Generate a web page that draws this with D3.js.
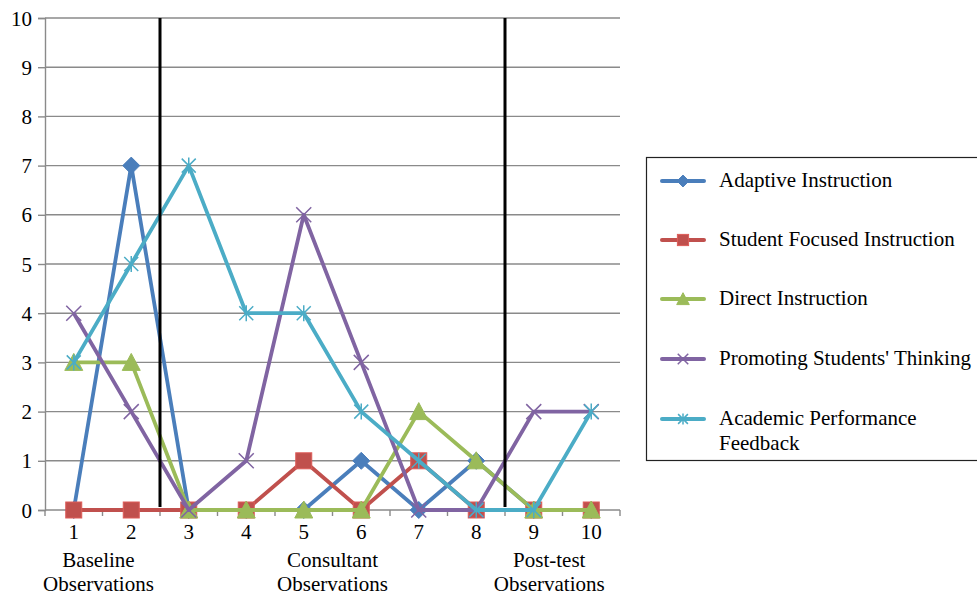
<!DOCTYPE html>
<html>
<head>
<meta charset="utf-8">
<script src="https://cdn.jsdelivr.net/npm/d3@7"></script>
<style>
  html, body { margin: 0; padding: 0; background: #fff; }
  svg { display: block; }
</style>
</head>
<body>
<svg id="chart" width="977" height="598"></svg>
<script>
// Observation sessions and ratings per teaching behaviour
const observations = [1, 2, 3, 4, 5, 6, 7, 8, 9, 10];
const yTicks = [0, 1, 2, 3, 4, 5, 6, 7, 8, 9, 10];
const seriesNames = [
  "Adaptive Instruction",
  "Student Focused Instruction",
  "Direct Instruction",
  "Promoting Students' Thinking",
  "Academic Performance Feedback"
];
const adaptive = [0, 7, 0, 0, 0, 1, 0, 1, 0, 0];
const studentFocused = [0, 0, 0, 0, 1, 0, 1, 0, 0, 0];
const direct = [3, 3, 0, 0, 0, 0, 2, 1, 0, 0];
const promoting = [4, 2, 0, 1, 6, 3, 0, 0, 2, 2];
const feedback = [3, 5, 7, 4, 4, 2, 1, 0, 0, 2];
const phaseLabels = [
  { lines: ["Baseline", "Observations"], at: 1.43 },
  { lines: ["Consultant", "Observations"], at: 5.5 },
  { lines: ["Post-test", "Observations"], at: 9.27 }
];
// Phase boundaries fall between these sessions
const phaseBreaks = [2.5, 8.5];

const colors = ["#4A7EBB", "#C0504D", "#9BBB59", "#8064A2", "#4BACC6"];
const symbols = ["diamond", "square", "triangle", "cross", "star"];
const values = [adaptive, studentFocused, direct, promoting, feedback];

const FONT = '"Liberation Serif", "Times New Roman", serif';
const FS = 21;
const styleText = sel => sel.style("font-family", FONT).style("font-size", FS + "px").style("fill", "#000");

const svg = d3.select("#chart");
const plot = { left: 45, right: 620, top: 18, bottom: 510 };

const x = d3.scaleBand().domain(observations).range([plot.left, plot.right]);
const xc = v => x(v) + x.bandwidth() / 2;
// continuous position for phase boundaries / labels
const xPos = d3.scaleLinear().domain([0.5, 10.5]).range([plot.left, plot.right]);
const y = d3.scaleLinear().domain([0, 10]).range([plot.bottom, plot.top]);

const gridColor = "#8a8a8a";

// Horizontal gridlines
svg.append("g")
  .selectAll("line")
  .data(yTicks.filter(t => t > 0))
  .join("line")
  .attr("x1", plot.left).attr("x2", plot.right)
  .attr("y1", d => y(d)).attr("y2", d => y(d))
  .attr("stroke", gridColor).attr("stroke-width", 1.4);

// Y axis
const yAxis = svg.append("g")
  .attr("transform", `translate(${plot.left},0)`)
  .call(d3.axisLeft(y).tickValues(yTicks).tickSize(7).tickPadding(6).tickFormat(d3.format("d")));
yAxis.select(".domain").attr("stroke", gridColor).attr("stroke-width", 1.4);
yAxis.selectAll(".tick line").attr("stroke", gridColor).attr("stroke-width", 1.4);
yAxis.selectAll(".tick text").call(styleText).attr("dy", "0.34em");

// X axis: ticks on band boundaries, labels centred in bands
const xAxisG = svg.append("g").attr("transform", `translate(0,${plot.bottom})`);
xAxisG.append("line")
  .attr("x1", plot.left).attr("x2", plot.right)
  .attr("stroke", gridColor).attr("stroke-width", 1.4);
xAxisG.selectAll("line.tick")
  .data(d3.range(0, observations.length + 1))
  .join("line")
  .attr("class", "tick")
  .attr("x1", i => plot.left + i * x.bandwidth())
  .attr("x2", i => plot.left + i * x.bandwidth())
  .attr("y1", 0).attr("y2", 6)
  .attr("stroke", gridColor).attr("stroke-width", 1.4);
xAxisG.selectAll("text.num")
  .data(observations)
  .join("text")
  .attr("class", "num")
  .attr("x", d => xc(d))
  .attr("y", 29)
  .attr("text-anchor", "middle")
  .call(styleText)
  .text(d => d);

// Phase captions under the axis
const phaseG = svg.append("g");
phaseLabels.forEach(p => {
  p.lines.forEach((ln, i) => {
    phaseG.append("text")
      .attr("x", xPos(p.at))
      .attr("y", 567 + i * 24)
      .attr("text-anchor", "middle")
      .call(styleText)
      .text(ln);
  });
});

// Marker drawing; k scales the symbol
function drawMarker(g, type, color, k = 1) {
  const s = v => v * k;
  switch (type) {
    case "diamond":
      g.append("path").attr("d", `M0,${s(-8.5)}L${s(8.5)},0L0,${s(8.5)}L${s(-8.5)},0Z`)
        .attr("fill", color).attr("stroke", color).attr("stroke-width", 1);
      break;
    case "square":
      g.append("rect").attr("x", s(-8)).attr("y", s(-8)).attr("width", s(16)).attr("height", s(16))
        .attr("fill", color).attr("stroke", d3.color(color).brighter(0.4)).attr("stroke-width", 1);
      break;
    case "triangle":
      g.append("path").attr("d", `M0,${s(-9)}L${s(9)},${s(8)}L${s(-9)},${s(8)}Z`)
        .attr("fill", color).attr("stroke", color).attr("stroke-width", 1);
      break;
    case "cross":
      g.append("path").attr("d", `M${s(-7.5)},${s(-7.5)}L${s(7.5)},${s(7.5)}M${s(-7.5)},${s(7.5)}L${s(7.5)},${s(-7.5)}`)
        .attr("stroke", color).attr("stroke-width", 1.5).attr("fill", "none");
      break;
    case "star":
      g.append("path").attr("d", `M${s(-7)},${s(-7)}L${s(7)},${s(7)}M${s(-7)},${s(7)}L${s(7)},${s(-7)}M0,${s(-8)}L0,${s(8)}`)
        .attr("stroke", color).attr("stroke-width", 1.5).attr("fill", "none");
      break;
  }
}

// Series lines and markers
const line = d3.line().x((d, i) => xc(observations[i])).y(d => y(d));
values.forEach((vals, s) => {
  const g = svg.append("g");
  g.append("path")
    .datum(vals)
    .attr("d", line)
    .attr("fill", "none")
    .attr("stroke", colors[s])
    .attr("stroke-width", 3.8)
    .attr("stroke-linejoin", "round");
  vals.forEach((v, i) => {
    const m = g.append("g").attr("transform", `translate(${xc(observations[i])},${y(v)})`);
    drawMarker(m, symbols[s], colors[s]);
  });
});

// Phase boundary lines
svg.append("g")
  .selectAll("line")
  .data(phaseBreaks)
  .join("line")
  .attr("x1", d => xPos(d)).attr("x2", d => xPos(d))
  .attr("y1", plot.top).attr("y2", plot.bottom - 3)
  .attr("stroke", "#000").attr("stroke-width", 3);

// Legend
const legend = svg.append("g");
legend.append("rect")
  .attr("x", 646.5).attr("y", 157.5)
  .attr("width", 340).attr("height", 303)
  .attr("fill", "#fff").attr("stroke", "#222").attr("stroke-width", 1.2);
const legendRows = [181, 240, 299, 359, 419];
seriesNames.forEach((name, s) => {
  const ly = legendRows[s];
  legend.append("line")
    .attr("x1", 662).attr("x2", 704).attr("y1", ly).attr("y2", ly)
    .attr("stroke", colors[s]).attr("stroke-width", 4).attr("stroke-linecap", "round");
  const m = legend.append("g").attr("transform", `translate(683,${ly})`);
  drawMarker(m, symbols[s], colors[s], 0.7);
  const words = name === "Academic Performance Feedback" ? ["Academic Performance", "Feedback"] : [name];
  words.forEach((w, k) => {
    legend.append("text")
      .attr("x", 719).attr("y", ly + 6 + k * 25)
      .call(styleText)
      .text(w);
  });
});
</script>
</body>
</html>
